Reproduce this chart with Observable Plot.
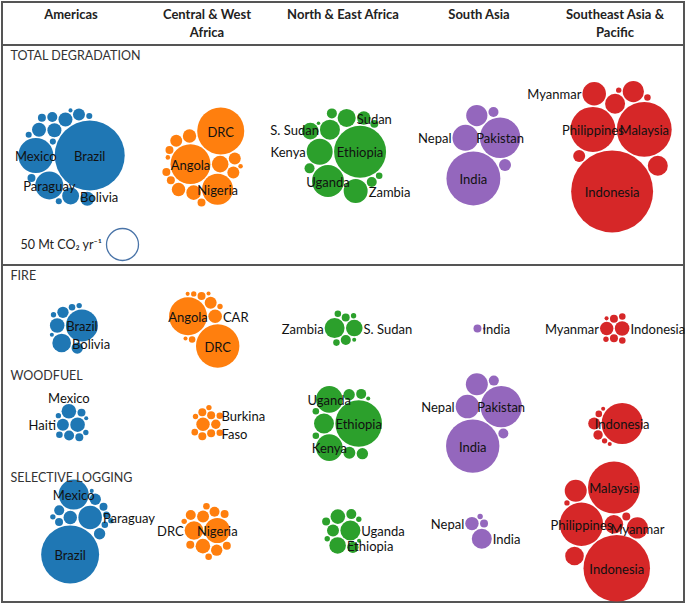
<!DOCTYPE html>
<html>
<head>
<meta charset="utf-8">
<script src="https://cdn.jsdelivr.net/npm/d3@7"></script>
<script src="https://cdn.jsdelivr.net/npm/@observablehq/plot@0.6"></script>
<style>
  body { margin: 0; background: #fff; font-family: Lato, "Open Sans", sans-serif; }
  #wrap { position: absolute; left: 1px; top: 1px; width: 680px; border: 2px solid #555; }
  #header { display: flex; height: 41px; border-bottom: 2px solid #555; }
  #header div { flex: 1; text-align: center; font-weight: bold; font-size: 13px; line-height: 18px;
    padding-top: 2px; white-space: pre-line; color: #222; }
  #total { border-bottom: 2px solid #555; }
  #wrap > div > svg { display: block; }
</style>
</head>
<body>
<div id="wrap">
  <div id="header"></div>
  <div id="total"></div>
  <div id="fire"></div>
  <div id="woodfuel"></div>
  <div id="logging"></div>
</div>
<script>
// ---------- data ----------
const regions = ["Americas", "Central & West Africa", "North & East Africa", "South Asia", "Southeast Asia & Pacific"];
const regionHeaders = ["Americas", "Central & West\nAfrica", "North & East Africa", "South Asia", "Southeast Asia &\nPacific"];
const regionColors = ["#1f77b4", "#ff7f0e", "#2ca02c", "#9467bd", "#d62728"];
const activityLabels = ["TOTAL DEGRADATION", "FIRE", "WOODFUEL", "SELECTIVE LOGGING"];
const legendValue = 50;               // Mt CO2 / yr
const legendLabel = "50 Mt CO₂ yr⁻¹";

// [region, country label ("" = unlabelled), Mt CO2 yr-1]
const totalDegradation = [
  ["Americas", "Mexico", 60], ["Americas", "Brazil", 239], ["Americas", "Paraguay", 38], ["Americas", "", 1.8],
  ["Americas", "Bolivia", 14], ["Americas", "", 9.6], ["Americas", "", 9.6], ["Americas", "", 9.6], ["Americas", "", 9.6],
  ["Americas", "", 7], ["Americas", "", 4.9], ["Americas", "", 3.1], ["Americas", "", 3.1], ["Americas", "", 1.8],
  ["Americas", "", 1.8], ["Americas", "", 1.8], ["Americas", "", 0.8],
  ["Central & West Africa", "Angola", 78], ["Central & West Africa", "", 13.4], ["Central & West Africa", "Nigeria", 47],
  ["Central & West Africa", "DRC", 108], ["Central & West Africa", "", 10.4], ["Central & West Africa", "", 8.8],
  ["Central & West Africa", "", 8.8], ["Central & West Africa", "", 7], ["Central & West Africa", "", 7],
  ["Central & West Africa", "", 7], ["Central & West Africa", "", 3.1], ["Central & West Africa", "", 3.1],
  ["Central & West Africa", "", 3.1], ["Central & West Africa", "", 3.1], ["Central & West Africa", "", 1.0],
  ["Central & West Africa", "", 1.0],
  ["North & East Africa", "Kenya", 33], ["North & East Africa", "Ethiopia", 132], ["North & East Africa", "Uganda", 50],
  ["North & East Africa", "S. Sudan", 19.5], ["North & East Africa", "Zambia", 28], ["North & East Africa", "Sudan", 16],
  ["North & East Africa", "", 13.4], ["North & East Africa", "", 8.8], ["North & East Africa", "", 4.9],
  ["North & East Africa", "", 4.9], ["North & East Africa", "", 4.9], ["North & East Africa", "", 3.1],
  ["North & East Africa", "", 2.1], ["North & East Africa", "", 0.6],
  ["South Asia", "Nepal", 33], ["South Asia", "Pakistan", 80], ["South Asia", "India", 142],
  ["South Asia", "", 22], ["South Asia", "", 7], ["South Asia", "", 4.9],
  ["Southeast Asia & Pacific", "Philippines", 99], ["Southeast Asia & Pacific", "Malaysia", 147],
  ["Southeast Asia & Pacific", "Indonesia", 328], ["Southeast Asia & Pacific", "", 19.5],
  ["Southeast Asia & Pacific", "Myanmar", 27], ["Southeast Asia & Pacific", "", 22], ["Southeast Asia & Pacific", "", 19.5],
  ["Southeast Asia & Pacific", "", 7], ["Southeast Asia & Pacific", "", 2.1], ["Southeast Asia & Pacific", "", 1.4]
];

const fire = [
  ["Americas", "", 10.4], ["Americas", "Brazil", 50], ["Americas", "Bolivia", 17], ["Americas", "", 6.3],
  ["Americas", "", 6.3], ["Americas", "", 2.1], ["Americas", "", 1.4], ["Americas", "", 1.4], ["Americas", "", 0.8],
  ["Central & West Africa", "Angola", 70], ["Central & West Africa", "CAR", 9], ["Central & West Africa", "DRC", 92],
  ["Central & West Africa", "", 7], ["Central & West Africa", "", 3.1], ["Central & West Africa", "", 2.1],
  ["Central & West Africa", "", 1.4], ["Central & West Africa", "", 1.4], ["Central & West Africa", "", 0.8],
  ["Central & West Africa", "", 0.8], ["Central & West Africa", "", 0.8],
  ["North & East Africa", "Zambia", 19.5], ["North & East Africa", "S. Sudan", 13.4], ["North & East Africa", "", 4.9],
  ["North & East Africa", "", 3.1], ["North & East Africa", "", 2.1], ["North & East Africa", "", 2.1],
  ["North & East Africa", "", 1.4], ["North & East Africa", "", 0.8],
  ["South Asia", "India", 3.1], ["South Asia", "", 0.35],
  ["Southeast Asia & Pacific", "Myanmar", 8.8], ["Southeast Asia & Pacific", "Indonesia", 10.4],
  ["Southeast Asia & Pacific", "", 3.1], ["Southeast Asia & Pacific", "", 3.1], ["Southeast Asia & Pacific", "", 2.1],
  ["Southeast Asia & Pacific", "", 2.1], ["Southeast Asia & Pacific", "", 1.4], ["Southeast Asia & Pacific", "", 0.8]
];

const woodfuel = [
  ["Americas", "Haiti", 7], ["Americas", "", 10.4], ["Americas", "", 4.9], ["Americas", "Mexico", 10.4],
  ["Americas", "", 3.1], ["Americas", "", 3.1], ["Americas", "", 2.1], ["Americas", "", 1.4], ["Americas", "", 1.4],
  ["Americas", "", 0.8],
  ["Central & West Africa", "", 8.8], ["Central & West Africa", "Burkina\nFaso", 4.3], ["Central & West Africa", "", 3.1],
  ["Central & West Africa", "", 3.1], ["Central & West Africa", "", 3.1], ["Central & West Africa", "", 3.1],
  ["Central & West Africa", "", 2.1], ["Central & West Africa", "", 2.1], ["Central & West Africa", "", 2.1],
  ["Central & West Africa", "", 1.4], ["Central & West Africa", "", 1.4],
  ["North & East Africa", "", 19.5], ["North & East Africa", "Ethiopia", 106], ["North & East Africa", "Kenya", 34.5],
  ["North & East Africa", "Uganda", 34.5], ["North & East Africa", "", 7], ["North & East Africa", "", 6.3],
  ["North & East Africa", "", 6.3], ["North & East Africa", "", 4.9], ["North & East Africa", "", 2.1],
  ["North & East Africa", "", 2.1], ["North & East Africa", "", 0.8],
  ["South Asia", "Nepal", 27], ["South Asia", "Pakistan", 83], ["South Asia", "India", 139],
  ["South Asia", "", 23.6], ["South Asia", "", 4.9], ["South Asia", "", 4.9],
  ["Southeast Asia & Pacific", "", 7], ["Southeast Asia & Pacific", "Indonesia", 83], ["Southeast Asia & Pacific", "", 4.3],
  ["Southeast Asia & Pacific", "", 2.1], ["Southeast Asia & Pacific", "", 1.4], ["Southeast Asia & Pacific", "", 0.8],
  ["Southeast Asia & Pacific", "", 0.8]
];

const selectiveLogging = [
  ["Americas", "", 8.8], ["Americas", "Paraguay", 27], ["Americas", "Brazil", 164], ["Americas", "Mexico", 44],
  ["Americas", "", 6.3], ["Americas", "", 6.3], ["Americas", "", 4.9], ["Americas", "", 3.1], ["Americas", "", 3.1],
  ["Americas", "", 2.1], ["Americas", "", 2.1], ["Americas", "", 1.4], ["Americas", "", 1.4], ["Americas", "", 0.8],
  ["Central & West Africa", "DRC", 17], ["Central & West Africa", "Nigeria", 31], ["Central & West Africa", "", 10.4],
  ["Central & West Africa", "", 7], ["Central & West Africa", "", 6.3], ["Central & West Africa", "", 4.9],
  ["Central & West Africa", "", 4.9], ["Central & West Africa", "", 3.1], ["Central & West Africa", "", 3.1],
  ["Central & West Africa", "", 3.1], ["Central & West Africa", "", 2.1], ["Central & West Africa", "", 2.1],
  ["Central & West Africa", "", 1.4],
  ["North & East Africa", "", 7], ["North & East Africa", "Uganda", 19.5], ["North & East Africa", "Ethiopia", 13.4],
  ["North & East Africa", "", 10.4], ["North & East Africa", "", 6.3], ["North & East Africa", "", 4.9],
  ["North & East Africa", "", 3.1], ["North & East Africa", "", 1.4], ["North & East Africa", "", 1.4],
  ["North & East Africa", "", 0.8],
  ["South Asia", "Nepal", 8.8], ["South Asia", "", 3.1], ["South Asia", "India", 19.5], ["South Asia", "", 1.4],
  ["Southeast Asia & Pacific", "Philippines", 92], ["Southeast Asia & Pacific", "", 17],
  ["Southeast Asia & Pacific", "Indonesia", 216], ["Southeast Asia & Pacific", "Malaysia", 132],
  ["Southeast Asia & Pacific", "", 23.6], ["Southeast Asia & Pacific", "", 17], ["Southeast Asia & Pacific", "", 3.1],
  ["Southeast Asia & Pacific", "Myanmar", 22], ["Southeast Asia & Pacific", "", 1.4]
];

// label placement relative to its bubble (style only; default "center")
const totalLabelSide = {"Bolivia": "right", "S. Sudan": "left", "Sudan": "right", "Zambia": "right",
  "Kenya": "left", "Nepal": "left", "Myanmar": "left"};
const fireLabelSide = {"Bolivia": "right", "CAR": "right", "Zambia": "left", "S. Sudan": "right",
  "India": "right", "Myanmar": "left", "Indonesia": "right"};
const woodfuelLabelSide = {"Haiti": "left", "Mexico": "top", "Burkina\nFaso": "right", "Nepal": "left"};
const loggingLabelSide = {"DRC": "left", "Paraguay": "right", "Uganda": "right", "Ethiopia": "right", "Nepal": "left",
  "India": "right"};

// ---------- layout ----------
const W = 680;
const colW = W / regions.length;
const legendRadius = 16;
const gap = 0.7;
const rPx = d3.scaleSqrt().domain([0, legendValue]).range([0, legendRadius]);

document.getElementById("header").innerHTML =
  regionHeaders.map(h => `<div>${h}</div>`).join("");

function layout(rows, sides) {
  const out = [];
  for (const region of regions) {
    const circles = rows.filter(d => d[0] === region)
      .map(([region, name, value]) => ({region, name, value, r: rPx(value) + gap}));
    if (!circles.length) continue;
    d3.packSiblings(circles);
    const e = d3.packEnclose(circles);
    for (const c of circles) {
      c.x -= e.x; c.y -= e.y;
      const side = sides[c.name] || "center";
      const rr = rPx(c.value);
      c.anchor = side === "left" ? "end" : side === "right" ? "start" : "middle";
      c.lx = side === "left" ? c.x - rr - 1 : side === "right" ? c.x + rr + 1 : c.x;
      c.ly = side === "top" ? c.y - rr - 7 : side === "bottom" ? c.y + rr + 7 : c.y;
      out.push(c);
    }
  }
  return out;
}

function panel(rows, sides, label, height, top, extra = []) {
  const data = layout(rows, sides);
  const labels = data.filter(d => d.name);
  const textMarks = ["start", "middle", "end"].map(anchor =>
    Plot.text(labels.filter(d => d.anchor === anchor), {fx: "region", x: "lx", y: "ly", text: "name",
      textAnchor: anchor, fontSize: 13, fill: "#111", lineHeight: 1.35}));
  return Plot.plot({
    width: W, height, margin: 0,
    style: {background: "transparent", fontFamily: "Lato, 'Open Sans', sans-serif", overflow: "visible"},
    fx: {domain: regions, padding: 0, axis: null},
    x: {domain: [-colW / 2, colW / 2], axis: null},
    y: {domain: [-top, height - top], reverse: true, axis: null},
    r: {type: "sqrt", domain: [0, legendValue], range: [0, legendRadius]},
    color: {domain: regions, range: regionColors},
    marks: [
      Plot.dot(data, {fx: "region", x: "x", y: "y", r: "value", fill: "region"}),
      ...textMarks,
      Plot.text([label], {fx: () => regions[0], frameAnchor: "top-left", dx: 7, dy: 5,
        fontSize: 12.5, fill: "#333"}),
      ...extra
    ]
  });
}

const legendMarks = [
  Plot.dot([legendValue], {fx: () => regions[0], r: d => d, frameAnchor: "bottom-left", dx: 119, dy: -20,
    fill: "white", stroke: "#4a74a8", strokeWidth: 1.3}),
  Plot.text([legendLabel], {fx: () => regions[0], frameAnchor: "bottom-left", dx: 17, dy: -20,
    textAnchor: "start", lineAnchor: "middle", fontSize: 12.5, fill: "#222"})
];

document.getElementById("total").append(panel(totalDegradation, totalLabelSide, activityLabels[0], 218, 109, legendMarks));
document.getElementById("fire").append(panel(fire, fireLabelSide, activityLabels[1], 100, 62));
document.getElementById("woodfuel").append(panel(woodfuel, woodfuelLabelSide, activityLabels[2], 102, 57));
document.getElementById("logging").append(panel(selectiveLogging, loggingLabelSide, activityLabels[3], 133, 63));
</script>
</body>
</html>
